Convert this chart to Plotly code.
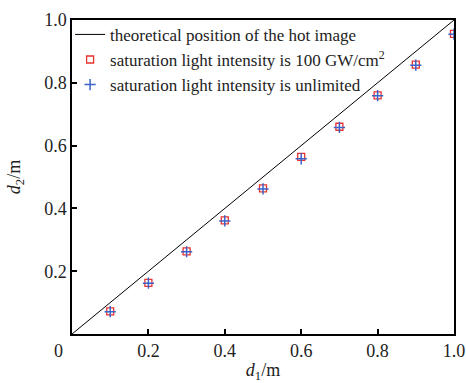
import plotly.graph_objects as go

# Object distance d1 (m) and hot-image position d2 (m)
d1 = [0.1, 0.2, 0.3, 0.4, 0.5, 0.6, 0.7, 0.8, 0.9, 1.0]
d2_saturated = [0.072, 0.163, 0.263, 0.362, 0.464, 0.564, 0.660, 0.760, 0.858, 0.956]
d2_unlimited = [0.071, 0.162, 0.262, 0.360, 0.462, 0.558, 0.658, 0.759, 0.856, 0.955]
theory_x = [0.0, 1.0]
theory_y = [0.0, 1.0]
tick_vals = [0.2, 0.4, 0.6, 0.8, 1.0]
tick_text = ["0.2", "0.4", "0.6", "0.8", "1.0"]

FONT = "Liberation Serif, Times New Roman, serif"
TEXT = "#222"

fig = go.Figure()
fig.add_trace(go.Scatter(
    x=theory_x, y=theory_y, mode="lines",
    line=dict(color="black", width=1),
    name="theoretical position of the hot image",
))
fig.add_trace(go.Scatter(
    x=d1, y=d2_saturated, mode="markers",
    marker=dict(symbol="square-open", size=7, color="#e8332f",
                line=dict(color="#e8332f", width=1.3)),
    name="saturation light intensity is 100 GW/cm<sup>2</sup>",
))
fig.add_trace(go.Scatter(
    x=d1, y=d2_unlimited, mode="markers",
    marker=dict(symbol="cross-thin", size=8, color="#3a62c8",
                line=dict(color="#3a62c8", width=1.5)),
    name="saturation light intensity is unlimited",
))

axis_common = dict(
    range=[0, 1], tickvals=tick_vals, ticktext=tick_text,
    showgrid=False, zeroline=False, automargin=False,
    showline=True, linecolor="black", linewidth=1.5, mirror=True,
    ticks="inside", ticklen=5, tickwidth=1.5, tickcolor="black",
    tickfont=dict(family=FONT, size=18, color=TEXT),
)

fig.update_layout(
    width=466, height=383,
    margin=dict(l=72, r=12, t=20, b=49),
    paper_bgcolor="white", plot_bgcolor="white",
    font=dict(family=FONT, color=TEXT),
    showlegend=True,
    legend=dict(
        x=-0.005, y=1.01, xanchor="left", yanchor="top",
        bgcolor="rgba(0,0,0,0)", borderwidth=0,
        font=dict(family=FONT, size=17, color=TEXT),
        itemwidth=30, tracegroupgap=0,
    ),
    xaxis=dict(axis_common, title=dict(text="<i>d</i><sub>1</sub>/m",
               font=dict(family=FONT, size=18, color=TEXT), standoff=13)),
    yaxis=dict(axis_common, title=dict(text="<i>d</i><sub>2</sub>/m",
               font=dict(family=FONT, size=18, color=TEXT), standoff=19)),
)

# Shared origin label at the corner
fig.add_annotation(
    x=0, y=0, xref="x", yref="y", text="0", showarrow=False,
    xshift=-14, yshift=-17,
    font=dict(family=FONT, size=18, color=TEXT),
)

fig.write_html("out.html")
